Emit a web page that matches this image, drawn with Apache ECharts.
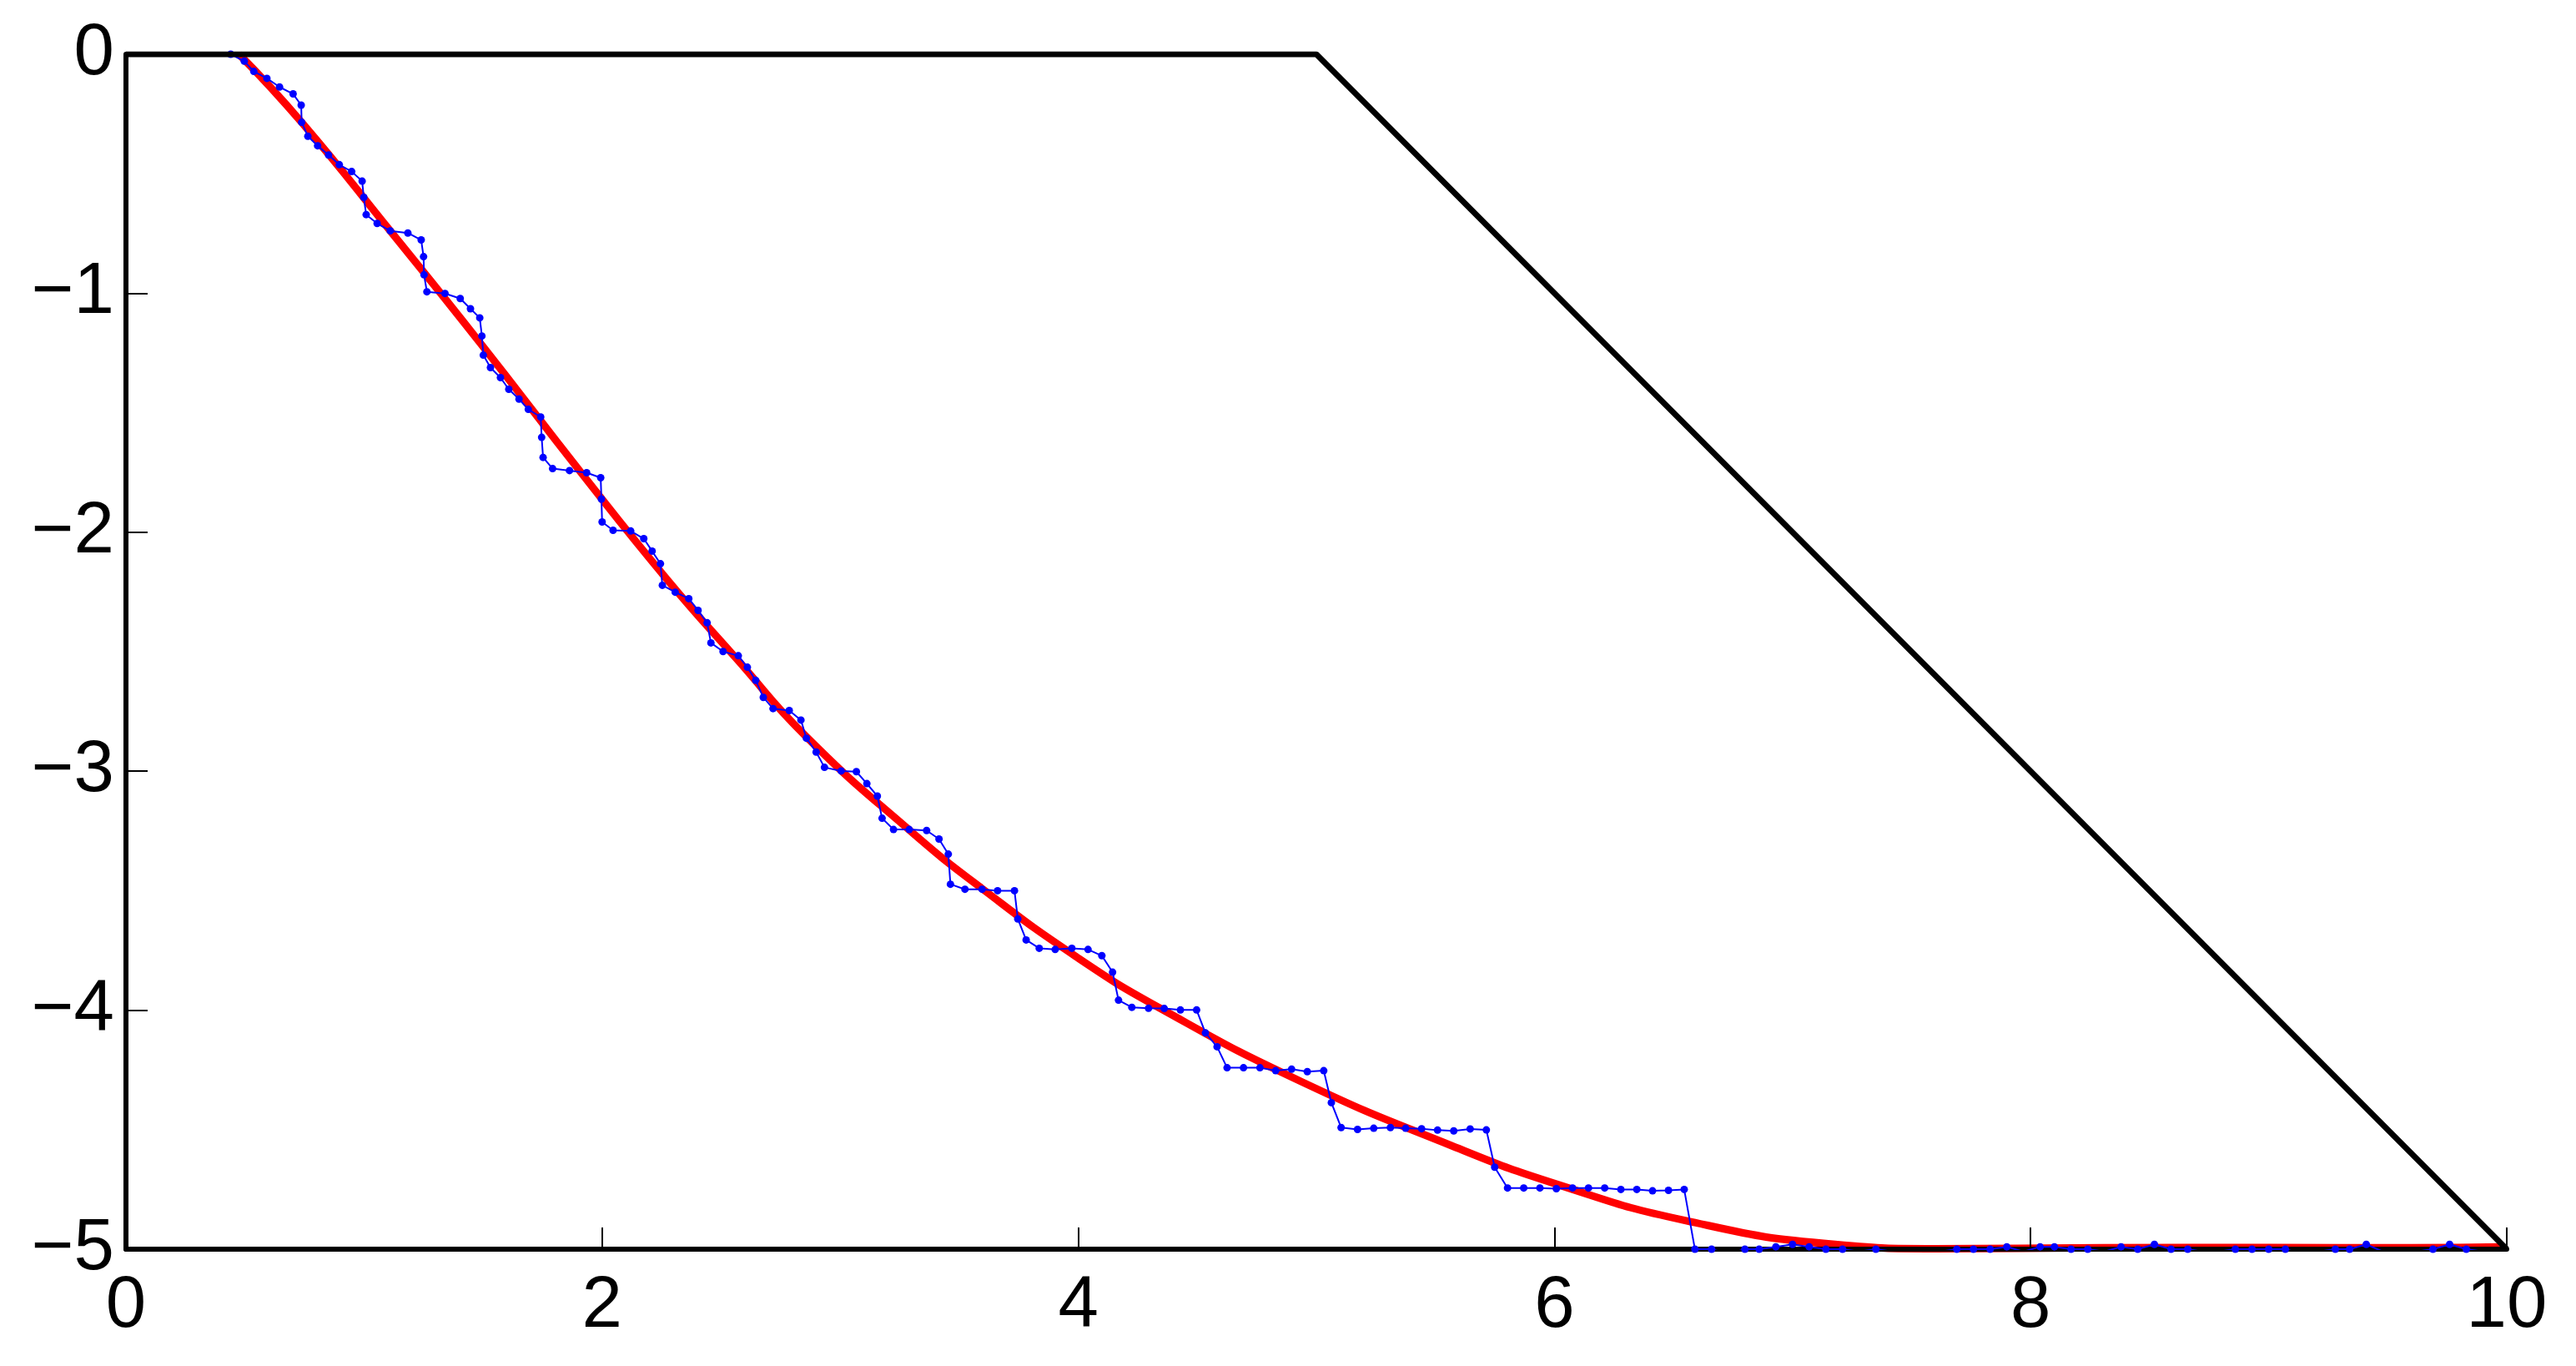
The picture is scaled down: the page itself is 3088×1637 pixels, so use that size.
<!DOCTYPE html>
<html>
<head>
<meta charset="utf-8">
<script src="https://cdn.jsdelivr.net/npm/echarts@6/dist/echarts.min.js"></script>
<style>
  html, body { margin: 0; padding: 0; background: #fff; }
  #main { width: 3088px; height: 1637px; }
</style>
</head>
<body>
<div id="main"></div>
<script>
// black reference path
var blackX = [0, 5, 10];
var blackY = [0, 0, -5];

// red smooth curve (read at a few points along the line)
var redX = [0.475, 0.738, 1.110, 1.494, 1.912, 2.274, 2.566, 2.858, 3.290, 3.594, 3.991, 4.353, 4.937, 5.568, 6.012, 6.549,
  7.179, 7.6, 8.3, 9.0, 9.6, 9.98];
var redY = [0, -0.285, -0.739, -1.216, -1.751, -2.199, -2.531, -2.856, -3.246, -3.490, -3.776, -3.997, -4.299, -4.567, -4.729, -4.880,
  -4.980, -4.998, -4.994, -4.993, -4.994, -4.99];

// blue sampled path (dots)
var blueX = [0.440, 0.497, 0.537, 0.592, 0.645, 0.702, 0.736, 0.738, 0.764, 0.805, 0.851, 0.896, 0.948, 0.992, 0.999, 1.009,
  1.055, 1.110, 1.184, 1.240, 1.250, 1.252, 1.264, 1.340, 1.404, 1.447, 1.486, 1.495, 1.501, 1.531, 1.573, 1.608,
  1.651, 1.690, 1.742, 1.746, 1.752, 1.792, 1.863, 1.935, 1.994, 1.997, 2.000, 2.046, 2.120, 2.175, 2.210, 2.245,
  2.253, 2.307, 2.364, 2.403, 2.441, 2.457, 2.508, 2.572, 2.610, 2.645, 2.677, 2.718, 2.786, 2.835, 2.858, 2.899,
  2.934, 3.004, 3.068, 3.112, 3.156, 3.176, 3.224, 3.290, 3.363, 3.415, 3.454, 3.463, 3.524, 3.596, 3.661, 3.732,
  3.746, 3.781, 3.836, 3.903, 3.973, 4.041, 4.099, 4.144, 4.169, 4.225, 4.295, 4.361, 4.429, 4.497, 4.534, 4.583,
  4.625, 4.694, 4.763, 4.829, 4.896, 4.962, 5.031, 5.063, 5.104, 5.173, 5.241, 5.311, 5.375, 5.442, 5.509, 5.577,
  5.646, 5.714, 5.749, 5.803, 5.871, 5.939, 6.008, 6.076, 6.143, 6.211, 6.279, 6.346, 6.412, 6.479, 6.545,
  6.59, 6.66, 6.73, 6.80, 6.86, 6.93, 7.00, 7.07, 7.14, 7.21, 7.28, 7.35, 7.42, 7.48, 7.55, 7.62, 7.69, 7.76,
  7.83, 7.90, 7.97, 8.04, 8.10, 8.17, 8.24, 8.31, 8.38, 8.45, 8.52, 8.59, 8.66, 8.72, 8.79, 8.86, 8.93, 9.00,
  9.07, 9.14, 9.21, 9.28, 9.34, 9.41, 9.48, 9.55, 9.62, 9.69, 9.76, 9.83, 9.90];
var blueY = [0, -0.029, -0.072, -0.101, -0.137, -0.166, -0.213, -0.285, -0.343, -0.383, -0.422, -0.462, -0.491, -0.531, -0.599, -0.671,
  -0.708, -0.739, -0.748, -0.777, -0.847, -0.923, -0.994, -1.001, -1.022, -1.065, -1.103, -1.179, -1.259, -1.311, -1.353, -1.402,
  -1.443, -1.486, -1.518, -1.603, -1.687, -1.734, -1.742, -1.751, -1.772, -1.861, -1.957, -1.992, -1.995, -2.027, -2.079, -2.132,
  -2.222, -2.251, -2.278, -2.327, -2.379, -2.463, -2.499, -2.517, -2.565, -2.620, -2.691, -2.738, -2.746, -2.786, -2.862, -2.920,
  -2.984, -2.999, -3.002, -3.052, -3.104, -3.197, -3.244, -3.244, -3.248, -3.284, -3.347, -3.473, -3.494, -3.494, -3.500, -3.500,
  -3.618, -3.706, -3.741, -3.746, -3.741, -3.746, -3.772, -3.841, -3.958, -3.988, -3.992, -3.993, -3.999, -3.999, -4.095, -4.153,
  -4.241, -4.241, -4.241, -4.253, -4.247, -4.257, -4.253, -4.387, -4.491, -4.499, -4.494, -4.491, -4.494, -4.496, -4.502, -4.505,
  -4.497, -4.501, -4.657, -4.744, -4.744, -4.744, -4.747, -4.744, -4.744, -4.744, -4.750, -4.750, -4.756, -4.754, -4.750,
  -5.0, -5.0, -5.02, -5.0, -5.0, -4.99, -4.98, -4.99, -5.0, -5.0, -5.01, -5.0, -5.01, -5.02, -5.01, -5.01, -5.0, -5.0,
  -5.0, -4.99, -5.01, -4.99, -4.99, -5.0, -5.0, -5.01, -4.99, -5.0, -4.98, -5.0, -5.0, -5.01, -5.01, -5.0, -5.0, -5.0,
  -5.0, -5.02, -5.01, -5.0, -5.0, -4.98, -5.01, -5.01, -5.01, -5.0, -4.98, -5.0, -5.01];

var xTicks = [0, 2, 4, 6, 8, 10];
var yTicks = [0, -1, -2, -3, -4, -5];

function zip(xs, ys) {
  var out = [];
  for (var i = 0; i < xs.length; i++) out.push([xs[i], ys[i]]);
  return out;
}
function fmt(v) {
  return v < 0 ? '\u2212' + Math.abs(v) : String(v);
}

var labelFont = {
  color: '#000',
  fontSize: 87,
  fontFamily: "'Liberation Sans Narrow', 'Liberation Sans', Arial, sans-serif"
};

var myChart = echarts.init(document.getElementById('main'), null, { renderer: 'canvas' });
var option = {
  animation: false,
  backgroundColor: '#fff',
  grid: { left: 151, right: 83, top: 65, bottom: 140, containLabel: false },
  xAxis: {
    type: 'value',
    min: xTicks[0],
    max: xTicks[xTicks.length - 1],
    interval: 2,
    z: 3,
    axisLine: { show: true, onZero: false, lineStyle: { color: '#000', width: 6 } },
    axisTick: { show: true, inside: true, length: 26, lineStyle: { color: '#000', width: 2 } },
    splitLine: { show: false },
    axisLabel: Object.assign({ margin: 26, formatter: fmt }, labelFont)
  },
  yAxis: {
    type: 'value',
    min: yTicks[yTicks.length - 1],
    max: yTicks[0],
    interval: 1,
    z: 3,
    axisLine: { show: true, onZero: false, lineStyle: { color: '#000', width: 6 } },
    axisTick: { show: true, inside: true, length: 26, lineStyle: { color: '#000', width: 2 } },
    splitLine: { show: false },
    axisLabel: Object.assign({ margin: 14, formatter: fmt }, labelFont)
  },
  series: [
    {
      name: 'red',
      type: 'line',
      data: zip(redX, redY),
      showSymbol: false,
      smooth: 0.5,
      z: 2,
      lineStyle: { color: '#ff0000', width: 9 }
    },
    {
      name: 'blue',
      type: 'line',
      data: zip(blueX, blueY),
      symbol: 'circle',
      symbolSize: 9,
      z: 4,
      itemStyle: { color: '#0000ff' },
      lineStyle: { color: '#0000ff', width: 2 }
    },
    {
      name: 'black',
      type: 'line',
      data: zip(blackX, blackY),
      showSymbol: false,
      z: 5,
      lineStyle: { color: '#000', width: 7 }
    }
  ]
};
myChart.setOption(option);
</script>
</body>
</html>
